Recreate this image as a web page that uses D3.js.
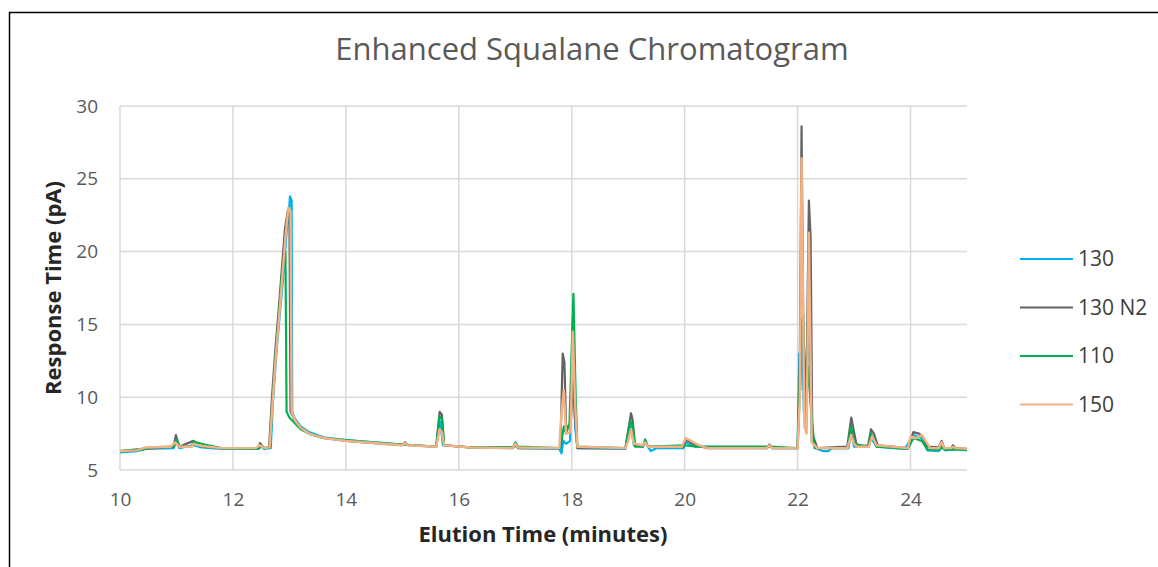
<!DOCTYPE html>
<html>
<head>
<meta charset="utf-8">
<script src="https://cdn.jsdelivr.net/npm/d3@7"></script>
<style>
  body { margin: 0; background: #fff; }
  text { font-family: "Open Sans", "Liberation Sans", sans-serif; }
</style>
</head>
<body>
<div id="chart"></div>
<script>
// DATA: [elution time (min), response (pA)]
var seriesNames = ["130", "130 N2", "110", "150"];
var seriesColors = ["#00b0f0", "#636363", "#00b050", "#f4b183"];
var xTicks = [10, 12, 14, 16, 18, 20, 22, 24];
var yTicks = [5, 10, 15, 20, 25, 30];

var data130 = [[10.0,6.2],[10.3,6.3],[10.45,6.45],[10.95,6.5],[11.0,7.0],[11.05,6.5],[11.3,6.7],[11.45,6.55],[11.8,6.45],[12.45,6.45],[12.5,6.6],[12.55,6.45],[12.67,6.5],[12.71,9.8],[12.77,13.0],[12.83,15.7],[12.9,18.7],[12.95,21.3],[12.99,22.6],[13.01,23.8],[13.04,23.5],[13.05,9.0],[13.1,8.5],[13.2,8.0],[13.35,7.6],[13.6,7.25],[14.0,7.05],[14.5,6.9],[15.0,6.75],[15.6,6.6],[15.67,8.3],[15.72,6.7],[16.2,6.55],[16.96,6.5],[17.0,6.7],[17.05,6.5],[17.78,6.45],[17.82,6.15],[17.85,7.0],[17.9,6.8],[17.97,7.0],[18.02,15.5],[18.06,8.0],[18.1,6.5],[18.95,6.45],[19.05,8.0],[19.1,6.7],[19.25,6.6],[19.3,6.9],[19.4,6.3],[19.5,6.5],[19.98,6.5],[20.02,6.9],[20.2,6.6],[21.45,6.5],[21.5,6.7],[21.55,6.5],[22.0,6.5],[22.03,13.0],[22.05,10.5],[22.08,15.0],[22.11,9.0],[22.15,8.0],[22.2,16.0],[22.25,7.0],[22.35,6.45],[22.45,6.3],[22.55,6.3],[22.6,6.5],[22.9,6.5],[22.95,7.6],[23.0,6.6],[23.26,6.6],[23.3,7.2],[23.4,6.6],[23.9,6.45],[24.05,7.4],[24.2,7.2],[24.3,6.35],[24.5,6.3],[24.57,6.7],[24.62,6.35],[24.8,6.45],[25.0,6.35]];

var data130N2 = [[10.0,6.3],[10.4,6.45],[10.95,6.6],[10.99,7.4],[11.05,6.6],[11.3,7.0],[11.45,6.6],[11.8,6.5],[12.45,6.5],[12.48,6.85],[12.55,6.5],[12.64,6.55],[12.69,9.9],[12.75,13.2],[12.81,16.0],[12.87,19.0],[12.92,21.5],[12.97,22.8],[13.0,22.6],[13.02,9.0],[13.1,8.4],[13.2,7.9],[13.35,7.5],[13.6,7.2],[14.0,7.0],[14.5,6.85],[15.0,6.7],[15.05,6.9],[15.1,6.7],[15.6,6.6],[15.66,9.0],[15.7,8.8],[15.74,6.7],[16.2,6.55],[16.96,6.55],[17.0,6.75],[17.05,6.5],[17.8,6.5],[17.84,13.0],[17.87,12.4],[17.9,8.0],[17.98,8.0],[18.02,11.0],[18.06,8.4],[18.1,6.5],[18.95,6.5],[19.05,8.9],[19.08,8.4],[19.12,6.7],[19.26,6.6],[19.3,7.0],[19.35,6.6],[19.98,6.6],[20.02,7.1],[20.2,6.7],[20.4,6.5],[21.46,6.5],[21.5,6.75],[21.55,6.5],[22.0,6.5],[22.04,12.5],[22.07,28.6],[22.1,15.0],[22.15,9.0],[22.2,23.5],[22.23,21.0],[22.26,7.5],[22.35,6.5],[22.88,6.6],[22.95,8.6],[23.0,7.6],[23.05,6.6],[23.25,6.7],[23.3,7.8],[23.35,7.5],[23.42,6.7],[23.95,6.5],[24.05,7.6],[24.15,7.5],[24.22,7.3],[24.3,6.6],[24.5,6.55],[24.55,7.0],[24.6,6.5],[24.72,6.5],[24.75,6.7],[24.8,6.5],[25.0,6.45]];

var data110 = [[10.0,6.3],[10.4,6.4],[10.5,6.55],[10.95,6.6],[11.0,7.1],[11.05,6.6],[11.27,6.6],[11.3,6.95],[11.5,6.75],[11.8,6.5],[12.45,6.45],[12.5,6.7],[12.55,6.5],[12.66,6.55],[12.7,9.7],[12.76,13.0],[12.82,15.8],[12.87,18.5],[12.93,20.0],[12.95,9.0],[13.0,8.6],[13.1,8.2],[13.2,7.8],[13.35,7.5],[13.6,7.2],[14.0,7.05],[14.5,6.9],[15.0,6.75],[15.6,6.6],[15.66,8.7],[15.7,8.5],[15.74,6.7],[16.2,6.55],[16.96,6.55],[17.0,6.9],[17.05,6.6],[17.8,6.5],[17.86,8.0],[17.9,7.5],[17.96,8.2],[18.03,17.1],[18.07,10.0],[18.1,6.6],[18.95,6.5],[19.04,8.4],[19.08,8.0],[19.12,6.6],[19.26,6.6],[19.3,7.1],[19.35,6.6],[20.0,6.7],[20.2,6.6],[21.5,6.6],[22.0,6.5],[22.03,9.5],[22.06,15.0],[22.1,15.65],[22.14,8.5],[22.19,12.1],[22.23,9.6],[22.26,8.2],[22.3,6.5],[22.88,6.5],[22.95,8.0],[23.0,6.8],[23.26,6.6],[23.3,7.5],[23.4,6.6],[23.95,6.45],[24.05,7.2],[24.2,7.0],[24.3,6.4],[24.52,6.4],[24.55,6.6],[24.6,6.4],[25.0,6.4]];

var data150 = [[10.0,6.3],[10.3,6.35],[10.45,6.55],[10.9,6.6],[10.98,6.9],[11.05,6.6],[11.27,6.6],[11.3,6.8],[11.45,6.65],[11.8,6.5],[12.4,6.5],[12.48,6.7],[12.55,6.5],[12.65,6.55],[12.7,9.5],[12.76,12.8],[12.82,15.6],[12.88,18.5],[12.93,21.0],[12.98,23.0],[13.02,22.8],[13.04,9.0],[13.1,8.4],[13.2,7.9],[13.35,7.5],[13.6,7.2],[14.0,7.0],[14.5,6.85],[15.0,6.7],[15.05,6.85],[15.1,6.7],[15.6,6.6],[15.66,7.8],[15.7,7.6],[15.74,6.7],[16.2,6.55],[16.95,6.5],[17.0,6.8],[17.05,6.55],[17.78,6.5],[17.82,9.0],[17.86,10.5],[17.9,7.5],[17.98,7.6],[18.02,14.5],[18.06,9.5],[18.1,6.6],[18.95,6.5],[19.0,7.0],[19.05,7.8],[19.1,6.8],[19.26,6.7],[19.3,6.9],[19.35,6.6],[19.95,6.6],[20.02,7.2],[20.2,6.8],[20.4,6.5],[21.45,6.5],[21.5,6.7],[21.55,6.5],[22.0,6.5],[22.04,10.0],[22.07,26.4],[22.12,8.0],[22.16,7.5],[22.2,21.3],[22.25,6.9],[22.35,6.5],[22.88,6.5],[22.95,7.4],[23.0,6.8],[23.05,6.6],[23.26,6.6],[23.32,7.3],[23.4,6.7],[23.95,6.5],[24.0,7.3],[24.1,7.2],[24.2,7.4],[24.3,6.8],[24.35,6.5],[24.5,6.5],[24.55,6.9],[24.6,6.5],[24.72,6.5],[24.75,6.6],[24.8,6.5],[25.0,6.45]];

var allSeries = [data130, data130N2, data110, data150];

// SIZES
var W = 1158, H = 567;
var margin = {top: 106, right: 191, bottom: 97, left: 120},
    width = W - margin.left - margin.right,
    height = H - margin.top - margin.bottom;

var root = d3.select("#chart").append("svg")
    .attr("width", W)
    .attr("height", H);

// OUTER BORDER
root.append("rect")
    .attr("x", 9.5).attr("y", 12.5)
    .attr("width", W + 20).attr("height", H + 20)
    .attr("fill", "none")
    .attr("stroke", "#000")
    .attr("stroke-width", 1.5);

var svg = root.append("g")
    .attr("transform", "translate(" + margin.left + "," + margin.top + ")");

// SCALES
var x = d3.scaleLinear().domain([10, 25]).range([0, width]);
var y = d3.scaleLinear().domain([5, 30]).range([height, 0]);

// GRIDLINES
svg.selectAll(".hgrid")
    .data(yTicks)
    .enter().append("line")
    .attr("x1", 0).attr("x2", width)
    .attr("y1", function(d) { return y(d); })
    .attr("y2", function(d) { return y(d); })
    .attr("stroke", "#d9d9d9")
    .attr("stroke-width", 1.5);

svg.selectAll(".vgrid")
    .data(xTicks)
    .enter().append("line")
    .attr("x1", function(d) { return x(d); })
    .attr("x2", function(d) { return x(d); })
    .attr("y1", 0).attr("y2", height)
    .attr("stroke", "#d9d9d9")
    .attr("stroke-width", 1.5);

// AXES (labels only, Excel style)
var xAxis = svg.append("g")
    .attr("transform", "translate(0," + height + ")")
    .call(d3.axisBottom(x).tickValues(xTicks).tickSize(0).tickPadding(23));
var yAxis = svg.append("g")
    .call(d3.axisLeft(y).tickValues(yTicks).tickSize(0).tickPadding(22));
[xAxis, yAxis].forEach(function(a) {
  a.select(".domain").remove();
  a.selectAll("text")
    .attr("fill", "#595959")
    .style("font-size", "19px")
    .style("font-family", "'Open Sans', sans-serif");
});

// LINES
var line = d3.line()
    .x(function(d) { return x(d[0]); })
    .y(function(d) { return y(d[1]); });

svg.selectAll(".series")
    .data(allSeries)
    .enter().append("path")
    .attr("d", line)
    .attr("fill", "none")
    .attr("stroke", function(d, i) { return seriesColors[i]; })
    .attr("stroke-width", function(d, i) { return i == 3 ? 2.4 : 2.2; })
    .attr("stroke-linejoin", "round");

// TITLE
root.append("text")
    .attr("x", 592).attr("y", 60)
    .attr("text-anchor", "middle")
    .attr("fill", "#595959")
    .style("font-size", "31px")
    .text("Enhanced Squalane Chromatogram");

// AXIS TITLES
root.append("text")
    .attr("x", 543).attr("y", 542)
    .attr("text-anchor", "middle")
    .attr("fill", "#262626")
    .style("font-size", "22px")
    .style("font-weight", "bold")
    .text("Elution Time (minutes)");

root.append("text")
    .attr("transform", "translate(61," + 288 + ") rotate(-90)")
    .attr("text-anchor", "middle")
    .attr("fill", "#262626")
    .style("font-size", "22px")
    .style("font-weight", "bold")
    .text("Response Time (pA)");

// LEGEND
var legend = root.append("g").attr("class", "legend");
legend.selectAll("line")
    .data(seriesNames)
    .enter().append("line")
    .attr("x1", 1020).attr("x2", 1073)
    .attr("y1", function(d, i) { return 259 + i * 48.5; })
    .attr("y2", function(d, i) { return 259 + i * 48.5; })
    .attr("stroke", function(d, i) { return seriesColors[i]; })
    .attr("stroke-width", 2);
legend.selectAll("text")
    .data(seriesNames)
    .enter().append("text")
    .attr("x", 1078)
    .attr("y", function(d, i) { return 259 + i * 48.5; })
    .attr("dy", "0.35em")
    .attr("fill", "#404040")
    .style("font-size", "21px")
    .text(function(d) { return d; });
</script>
</body>
</html>
